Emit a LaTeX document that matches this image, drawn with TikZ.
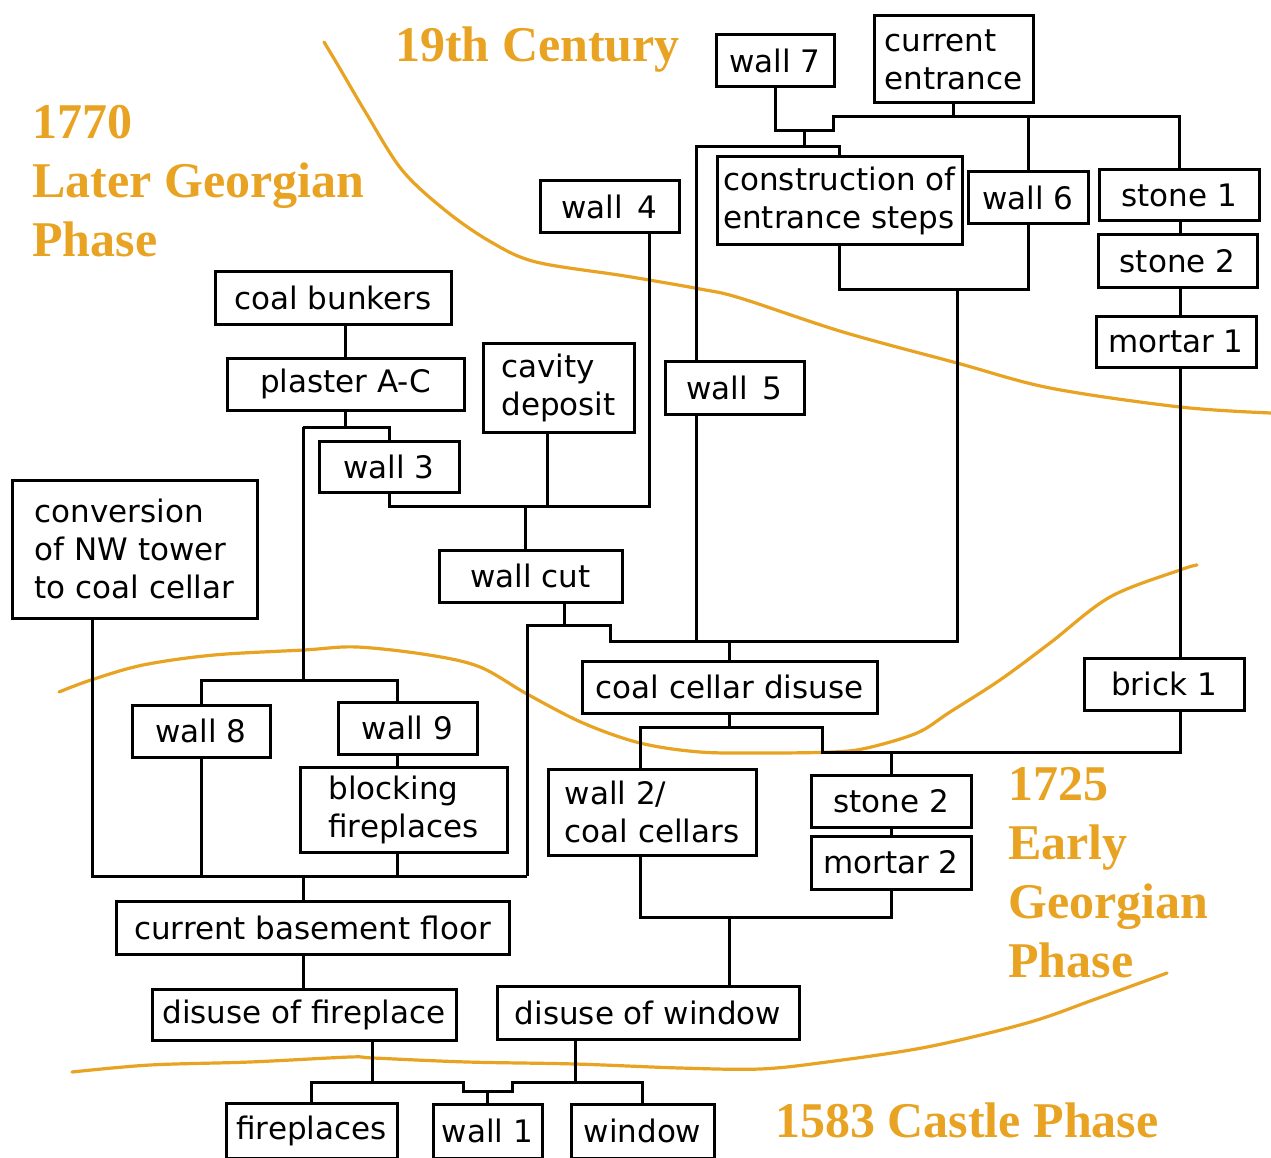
\documentclass[tikz,border=0pt]{standalone}
\usepackage{fontspec}
\newfontfamily\boxfont{DejaVu Sans}
\newfontfamily\phasefont{Liberation Serif}
\definecolor{phaseorange}{RGB}{233,163,35}
\begin{document}
\begin{tikzpicture}[x=1pt,y=-1pt,
  box/.style={draw, line width=3pt, fill=white, inner sep=0pt, align=left,
    font=\boxfont\fontsize{31}{38}\selectfont},
  link/.style={line width=3pt, line join=miter},
  phase/.style={text=phaseorange, inner sep=0pt, anchor=base west,
    font=\phasefont\bfseries\fontsize{50}{58}\selectfont},
  divide/.style={draw=phaseorange, line width=3.2pt, line cap=round, line join=round}]
\fill[white] (0,0) rectangle (1271,1158);
\useasboundingbox (0,0) rectangle (1271,1158);

% phase boundaries
\draw[divide] plot[smooth, tension=0.55] coordinates {(324,42) (339,67) (366,113) (402,170) (446,211) (491,242) (536,262) (625,276) (700,289) (740,298) (843,332) (957,363) (1050,388) (1180,407) (1271,413)};
\draw[divide] plot[smooth, tension=0.55] coordinates {(59,692) (91,680) (143,665) (214,655) (304,650) (357,647) (429,655) (480,667) (527,694) (583,723) (640,743) (700,752) (767,753) (833,752) (867,748) (917,733) (950,712) (1000,680) (1050,643) (1110,597) (1180,570) (1197,565)};
\draw[divide] plot[smooth, tension=0.55] coordinates {(72,1072) (150,1065) (250,1062) (350,1057) (373,1058) (467,1062) (575,1064) (680,1068) (760,1069) (827,1062) (927,1047) (1027,1023) (1093,1000) (1167,973)};

% phase labels
\node[phase] (c19) at (395,62) {19th Century};
\node[phase] (lg1) at (32,139) {1770};
\node[phase] (lg2) at (32,198) {Later Georgian};
\node[phase] (lg3) at (32,257) {Phase};
\node[phase] (eg1) at (1008,800) {1725};
\node[phase] (eg2) at (1008,859) {Early};
\node[phase] (eg3) at (1008,918) {Georgian};
\node[phase] (eg4) at (1008,977) {Phase};
\node[phase] (cp) at (775,1137) {1583 Castle Phase};

% boxes
\node[box, minimum width=118pt, minimum height=52pt] (w7) at (775,61) {wall 7};
\node[box, minimum width=159pt, minimum height=87pt] (ce) at (953.5,59.5) {current\\entrance};
\node[box, minimum width=245pt, minimum height=88pt] (ces) at (839.5,201) {construction of\\entrance steps};
\node[box, minimum width=120pt, minimum height=52pt] (w6) at (1028,198) {wall 6};
\node[box, minimum width=160pt, minimum height=51pt] (s1) at (1179,195.5) {stone 1};
\node[box, minimum width=159pt, minimum height=52pt] (s2a) at (1177.5,261) {stone 2};
\node[box, minimum width=160pt, minimum height=51pt] (m1) at (1176,341.5) {mortar 1};
\node[box, minimum width=139pt, minimum height=52pt] (w4) at (609.5,207) {wall\, 4};
\node[box, minimum width=236pt, minimum height=52pt] (cb) at (333,298) {coal bunkers};
\node[box, minimum width=237pt, minimum height=52pt] (pac) at (345.5,384) {plaster A-C};
\node[box, minimum width=151pt, minimum height=89pt] (cd) at (558.5,387.5) {cavity\\deposit};
\node[box, minimum width=139pt, minimum height=53pt] (w5) at (734.5,387.5) {wall\, 5};
\node[box, minimum width=140pt, minimum height=51pt] (w3) at (389,466.5) {wall 3};
\node[box, minimum width=245pt, minimum height=138pt] (conv) at (134.5,549) {conversion\\of NW tower\\to coal cellar};
\node[box, minimum width=183pt, minimum height=52pt] (wc) at (530.5,576) {wall cut};
\node[box, minimum width=295pt, minimum height=52pt] (ccd) at (729.5,687) {coal cellar disuse};
\node[box, minimum width=160pt, minimum height=52pt] (b1) at (1164,684) {brick 1};
\node[box, minimum width=138pt, minimum height=52pt] (w8) at (201,731) {wall 8};
\node[box, minimum width=139pt, minimum height=52pt] (w9) at (407.5,728) {wall 9};
\node[box, minimum width=207pt, minimum height=85pt] (bf) at (403.5,809.5) {blocking\\fireplaces};
\node[box, minimum width=208pt, minimum height=86pt] (w2) at (652,812) {wall 2/\\coal cellars};
\node[box, minimum width=160pt, minimum height=52pt] (s2b) at (891,801) {stone 2};
\node[box, minimum width=160pt, minimum height=53pt] (m2) at (891,862.5) {mortar 2};
\node[box, minimum width=393pt, minimum height=53pt] (cbf) at (312.5,927.5) {current basement floor};
\node[box, minimum width=304pt, minimum height=51pt] (dfp) at (304,1014.5) {disuse of fireplace};
\node[box, minimum width=302pt, minimum height=53pt] (dw) at (648,1012.5) {disuse of window};
\node[box, minimum width=171pt, minimum height=55pt] (fp) at (311.5,1130.5) {fireplaces};
\node[box, minimum width=109pt, minimum height=54pt] (w1) at (487.5,1131) {wall 1};
\node[box, minimum width=143pt, minimum height=54pt] (win) at (642.5,1131) {window};

% junction coordinates
\coordinate (t1) at (833,131);
\coordinate (t2) at (833,117);
\coordinate (t3) at (804,131);
\coordinate (t4) at (804,147);
\coordinate (t5) at (696,147);
\coordinate (t6) at (957,289);
\coordinate (j2) at (957,641);
\coordinate (j3) at (610,641);
\coordinate (j4) at (610,625);
\coordinate (j5) at (527,625);
\coordinate (j6) at (527,876);
\coordinate (j7) at (564,625);
\coordinate (k1) at (649,506);
\coordinate (k2) at (525,506);
\coordinate (k3) at (547,506);
\coordinate (p2) at (303,427);
\coordinate (p3) at (303,680);
\coordinate (p4) at (397,680);
\coordinate (q1) at (92,876);
\coordinate (u1) at (1180,752);
\coordinate (u2) at (822,752);
\coordinate (u3) at (822,727);
\coordinate (u4) at (640,727);
\coordinate (v1) at (640,917);
\coordinate (v3) at (729,917);
\coordinate (r1) at (372,1082);
\coordinate (r2) at (575,1082);
\coordinate (r3) at (463,1082);
\coordinate (r4) at (463,1091);
\coordinate (r5) at (512,1091);
\coordinate (r6) at (512,1082);
\coordinate (r7) at (487.5,1091);

% connectors: top group
\draw[link] (w7.south) |- (t1) -- (t2) -| (s1.north);
\draw[link] (ce.south) -- (ce.south |- t2);
\draw[link] (w6.north) -- (w6.north |- t2);
\draw[link] (t3) -- (t4);
\draw[link] (w5.north -| t5) -- (t5) -| (ces.north);
\draw[link] (ces.south) |- (t6) -| (w6.south);
\draw[link] (t6) -- (j2) -- (j3) -- (j4) -- (j5) -- (j6);
\draw[link] (wc.south -| j7) -- (j7);
\draw[link] (w5.south -| t5) -- (t5 |- j2);
\draw[link] (ccd.north) -- (ccd.north |- j2);

% connectors: middle-left group
\draw[link] (w4.south -| k1) -- (k1) -| (w3.south);
\draw[link] (cd.south -| k3) -- (k3);
\draw[link] (k2) -- (wc.north -| k2);
\draw[link] (cb.south -| pac.south) -- (pac.north);
\draw[link] (pac.south) |- (p2);
\draw[link] (p2) -| (w3.north);
\draw[link] (p2) -- (p3);
\draw[link] (w8.north) |- (p4) -- (w9.north -| p4);
\draw[link] (w9.south -| p4) -- (bf.north -| p4);
\draw[link] (bf.south -| p4) -- (p4 |- j6);
\draw[link] (conv.south -| q1) -- (q1) -- (j6);
\draw[link] (w8.south) -- (w8.south |- q1);
\draw[link] (p2 |- q1) -- (cbf.north -| p2);
\draw[link] (cbf.south -| p2) -- (dfp.north -| p2);

% connectors: right group
\draw[link] (s1.south -| u1) -- (s2a.north -| u1);
\draw[link] (s2a.south -| u1) -- (m1.north -| u1);
\draw[link] (m1.south -| u1) -- (b1.north -| u1);
\draw[link] (b1.south -| u1) -- (u1) -- (u2) -- (u3) -- (u4) -- (w2.north -| u4);
\draw[link] (ccd.south) -- (ccd.south |- u3);
\draw[link] (s2b.north) -- (s2b.north |- u1);
\draw[link] (s2b.south) -- (m2.north);
\draw[link] (w2.south -| v1) -- (v1) -| (m2.south);
\draw[link] (v3) -- (dw.north -| v3);

% connectors: bottom group
\draw[link] (fp.north) |- (r3) -- (r4) -- (r5) -- (r6) -| (win.north);
\draw[link] (dfp.south -| r1) -- (r1);
\draw[link] (dw.south -| r2) -- (r2);
\draw[link] (r7) -- (w1.north);
\end{tikzpicture}
\end{document}
